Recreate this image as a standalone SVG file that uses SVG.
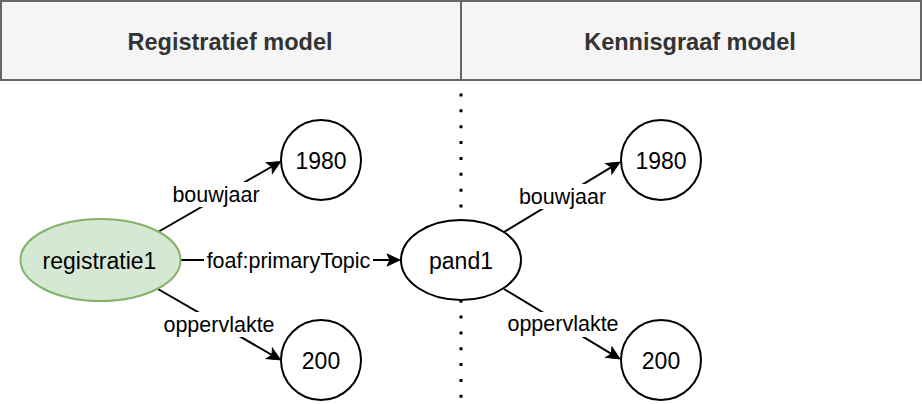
<svg xmlns="http://www.w3.org/2000/svg" width="922" height="404" viewBox="0 0 922 404">
<style>
.hdr{fill:#f5f5f5;stroke:#666666;stroke-width:2}
.htxt{font-family:"Liberation Sans",Arial,sans-serif;font-weight:bold;font-size:23.5px;fill:#333333;text-anchor:middle}
.node{fill:#ffffff;stroke:#000000;stroke-width:2}
.green{fill:#d5e8d4;stroke:#82b366;stroke-width:2}
.ntxt{font-family:"Liberation Sans",Arial,sans-serif;font-size:23px;fill:#000000;text-anchor:middle}
.edge{fill:none;stroke:#000000;stroke-width:2}
.lbg{fill:#ffffff;stroke:none}
.etxt{font-family:"Liberation Sans",Arial,sans-serif;font-size:21.5px;fill:#000000;text-anchor:middle}
</style>
<defs>
<marker id="arr" markerUnits="userSpaceOnUse" markerWidth="14" markerHeight="13" refX="3" refY="6" orient="auto" overflow="visible">
<path d="M0,0 L13,6 L0,12 L3,6 z" fill="#000000" stroke="#000000" stroke-width="1" stroke-linejoin="miter"/>
</marker>
</defs>
<g id="header">
<rect class="hdr" x="1" y="1" width="920" height="79"/>
<line x1="461" y1="1" x2="461" y2="80" stroke="#666666" stroke-width="2"/>
<text class="htxt" x="230" y="50">Registratief model</text>
<text class="htxt" x="690" y="50">Kennisgraaf model</text>
</g>
<g id="divider">
<line x1="461" y1="93.5" x2="461" y2="404" stroke="#000000" stroke-width="3" stroke-dasharray="3 12.86"/>
</g>
<g id="connectors">
<line class="edge" x1="158" y1="232" x2="272" y2="166.5" marker-end="url(#arr)"/>
<line class="edge" x1="158" y1="289" x2="272" y2="355" marker-end="url(#arr)"/>
<line class="edge" x1="181" y1="260" x2="390" y2="260" marker-end="url(#arr)"/>
<line class="edge" x1="504" y1="232" x2="611.4" y2="167.2" marker-end="url(#arr)"/>
<line class="edge" x1="504" y1="289" x2="611.4" y2="353.8" marker-end="url(#arr)"/>
<rect class="lbg" x="172" y="182" width="88" height="25"/>
<text class="etxt" x="216" y="201.5">bouwjaar</text>
<rect class="lbg" x="161" y="312" width="116" height="25"/>
<text class="etxt" x="219" y="331.5">oppervlakte</text>
<rect class="lbg" x="204" y="249" width="169" height="24"/>
<text class="etxt" x="288.5" y="268">foaf:primaryTopic</text>
<rect class="lbg" x="518" y="184" width="89" height="25"/>
<text class="etxt" x="562.5" y="204">bouwjaar</text>
<rect class="lbg" x="505" y="312" width="116" height="25"/>
<text class="etxt" x="563" y="330.7">oppervlakte</text>
</g>
<g id="registratie1">
<ellipse class="green" cx="100.5" cy="260" rx="80" ry="41"/>
<text class="ntxt" x="99.5" y="268.5">registratie1</text>
</g>
<g id="pand1">
<ellipse class="node" cx="461" cy="260" rx="60" ry="40"/>
<text class="ntxt" x="461" y="268.5">pand1</text>
</g>
<g id="l1980">
<circle class="node" cx="321" cy="160" r="40"/>
<text class="ntxt" x="321" y="168.5">1980</text>
</g>
<g id="l200">
<circle class="node" cx="321" cy="360" r="40"/>
<text class="ntxt" x="321" y="368.5">200</text>
</g>
<g id="r1980">
<circle class="node" cx="661" cy="160" r="40"/>
<text class="ntxt" x="661" y="168.5">1980</text>
</g>
<g id="r200">
<circle class="node" cx="661" cy="360" r="40"/>
<text class="ntxt" x="661" y="368.5">200</text>
</g>
</svg>
